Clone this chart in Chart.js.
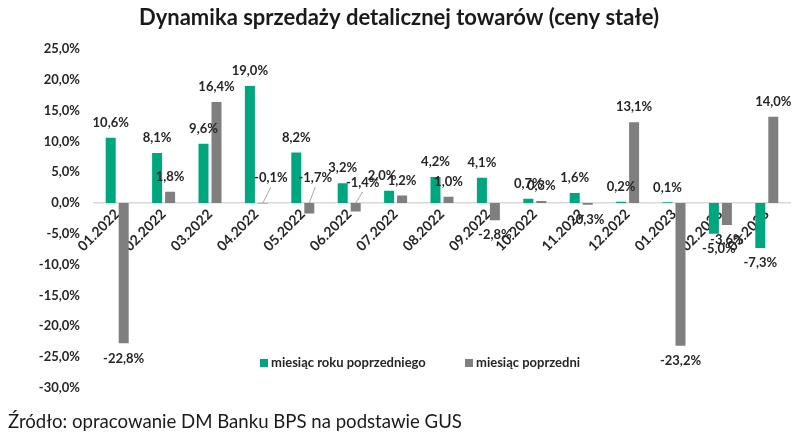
<!DOCTYPE html>
<html>
<head>
<meta charset="utf-8">
<script src="https://cdn.jsdelivr.net/npm/chart.js@4/dist/chart.umd.min.js"></script>
<style>
  html, body { margin: 0; padding: 0; background: #fff; }
  #wrap { width: 800px; height: 441px; position: relative; }
</style>
</head>
<body>
<div id="wrap"><canvas id="c" width="800" height="441"></canvas></div>
<script>
const categories = ['01.2022','02.2022','03.2022','04.2022','05.2022','06.2022','07.2022','08.2022','09.2022','10.2022','11.2022','12.2022','01.2023','02.2023','03.2023'];
const yoyValues = [10.6, 8.1, 9.6, 19.0, 8.2, 3.2, 2.0, 4.2, 4.1, 0.7, 1.6, 0.2, 0.1, -5.0, -7.3];
const momValues = [-22.8, 1.8, 16.4, -0.1, -1.7, -1.4, 1.2, 1.0, -2.8, 0.3, -0.3, 13.1, -23.2, -3.6, 14.0];
const seriesNames = ['miesiąc roku poprzedniego', 'miesiąc poprzedni'];
const yTicks = { min: -30, max: 25, step: 5 };

const GREEN = '#00a67e';
const GREY = '#7f7f7f';
const TEXT = '#262626';
const FONT = 'Lato';

const fmt = v => v.toFixed(1).replace('.', ',') + '%';

// label placement tweaks (dataset:index -> pixel offsets), leader lines where Excel moved labels
const labelNudges = {
  '1:3': { dx: 8, dy: -25, leader: true },
  '1:4': { dx: 6, dy: -25, leader: true },
  '1:5': { dx: 7, dy: -20, leader: true },
  '0:6': { dx: -7, dy: 0 },
  '0:13': { dx: 5, dy: 0 }
};

const barLabels = {
  id: 'barLabels',
  afterDatasetsDraw(chart) {
    const ctx = chart.ctx;
    ctx.save();
    ctx.font = 'bold 13px ' + FONT;
    ctx.fillStyle = TEXT;
    ctx.textAlign = 'center';
    ctx.textBaseline = 'middle';
    chart.data.datasets.forEach((ds, di) => {
      const meta = chart.getDatasetMeta(di);
      meta.data.forEach((bar, i) => {
        const v = ds.data[i];
        const n = labelNudges[di + ':' + i];
        let x = bar.x, y;
        if (n && n.leader) {
          x = bar.x + n.dx;
          y = bar.base + n.dy;
          ctx.save();
          ctx.strokeStyle = '#a6a6a6';
          ctx.lineWidth = 1;
          ctx.beginPath();
          ctx.moveTo(bar.x, bar.base);
          ctx.lineTo(x, y + 9);
          ctx.stroke();
          ctx.restore();
        } else {
          y = v >= 0 ? bar.y - 15 : bar.y + 15;
          if (n) { x += n.dx; y += n.dy; }
        }
        ctx.fillText(fmt(v), x, y);
      });
    });
    ctx.restore();
  }
};

const customLegend = {
  id: 'customLegend',
  afterDraw(chart) {
    const ctx = chart.ctx;
    ctx.save();
    ctx.font = 'bold 13px ' + FONT;
    ctx.fillStyle = TEXT;
    ctx.textBaseline = 'middle';
    const y = 363;
    const items = [{ x: 260, color: GREEN }, { x: 465, color: GREY }];
    items.forEach((it, k) => {
      ctx.fillStyle = it.color;
      ctx.fillRect(it.x, y - 4, 8, 8);
      ctx.fillStyle = TEXT;
      ctx.fillText(chart.data.datasets[k].label, it.x + 11, y);
    });
    ctx.restore();
  }
};

new Chart(document.getElementById('c'), {
  type: 'bar',
  data: {
    labels: categories,
    datasets: [
      { label: seriesNames[0], data: yoyValues, backgroundColor: GREEN, categoryPercentage: 0.56, barPercentage: 0.77 },
      { label: seriesNames[1], data: momValues, backgroundColor: GREY, categoryPercentage: 0.56, barPercentage: 0.77 }
    ]
  },
  options: {
    responsive: false,
    animation: false,
    layout: { padding: { left: 8, right: 10, top: 0, bottom: 8 } },
    plugins: {
      legend: { display: false },
      tooltip: { enabled: false },
      title: {
        display: true,
        text: 'Dynamika sprzedaży detalicznej towarów (ceny stałe)',
        color: '#1a1a1a',
        font: { family: FONT, size: 22, weight: 'bold' },
        padding: { top: 5, bottom: 17.6 }
      },
      subtitle: {
        display: true,
        position: 'bottom',
        align: 'start',
        text: 'Źródło: opracowanie DM Banku BPS na podstawie GUS',
        color: '#1a1a1a',
        font: { family: FONT, size: 18.6, weight: 'normal' },
        padding: { top: 23, bottom: 0 }
      }
    },
    scales: {
      x: {
        position: { y: 0 },
        grid: { display: false, drawTicks: false },
        border: { display: true, color: '#d9d9d9', width: 1.5 },
        ticks: {
          autoSkip: false, minRotation: 45, maxRotation: 45, padding: 3,
          color: TEXT, font: { family: FONT, size: 14, weight: 'bold' }
        }
      },
      y: {
        min: yTicks.min, max: yTicks.max,
        grid: { display: false, drawTicks: false },
        border: { display: false },
        afterFit: s => { s.width = 86; },
        ticks: {
          stepSize: yTicks.step, padding: 14,
          color: TEXT, font: { family: FONT, size: 13, weight: 'bold' },
          callback: v => fmt(v)
        }
      }
    }
  },
  plugins: [barLabels, customLegend]
});
</script>
</body>
</html>
